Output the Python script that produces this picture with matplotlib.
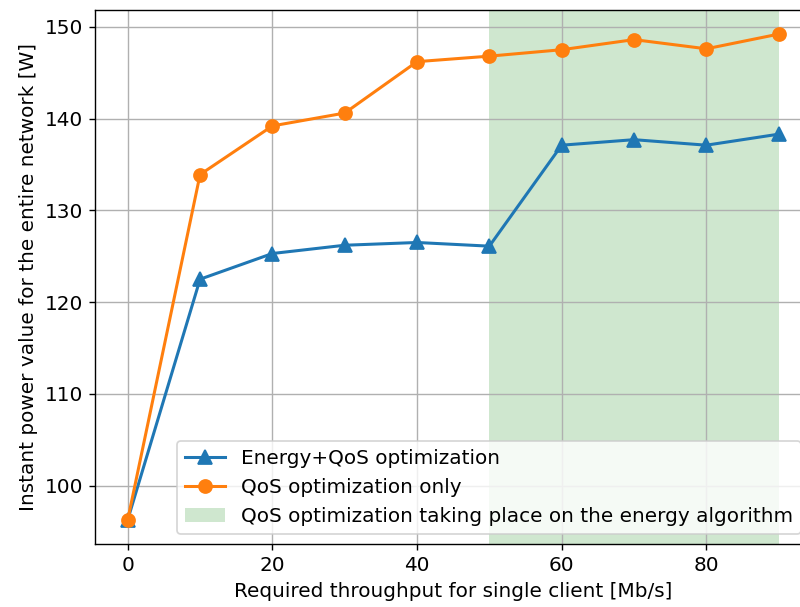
import matplotlib
matplotlib.use('Agg')
import matplotlib.pyplot as plt

throughput = [0, 10, 20, 30, 40, 50, 60, 70, 80, 90]
energy_qos = [96.3, 122.5, 125.3, 126.2, 126.5, 126.1, 137.1, 137.7, 137.1, 138.3]
qos_only = [96.3, 133.9, 139.2, 140.6, 146.2, 146.8, 147.5, 148.6, 147.6, 149.2]
span_start, span_end = 50, 90


def main():
    plt.rcParams['font.size'] = 11.5
    plt.rcParams['lines.linewidth'] = 1.75
    fig = plt.figure(figsize=(6.4, 4.856), dpi=125)
    ax = fig.add_axes([0.119, 0.1038, 0.895, 0.880])

    ax.plot(throughput, energy_qos, marker='^', markersize=8, label='Energy+QoS optimization')
    ax.plot(throughput, qos_only, marker='o', markersize=7.5, label='QoS optimization only')
    ax.axvspan(span_start, span_end, color='green', alpha=0.19,
               linewidth=0, label='QoS optimization taking place on the energy algorithm')

    ax.set_xlabel('Required throughput for single client [Mb/s]')
    ax.set_ylabel('Instant power value for the entire network [W]')
    ax.grid(True)
    ax.legend(loc='lower right')

    fig.savefig('out.png', dpi=125)


main()
